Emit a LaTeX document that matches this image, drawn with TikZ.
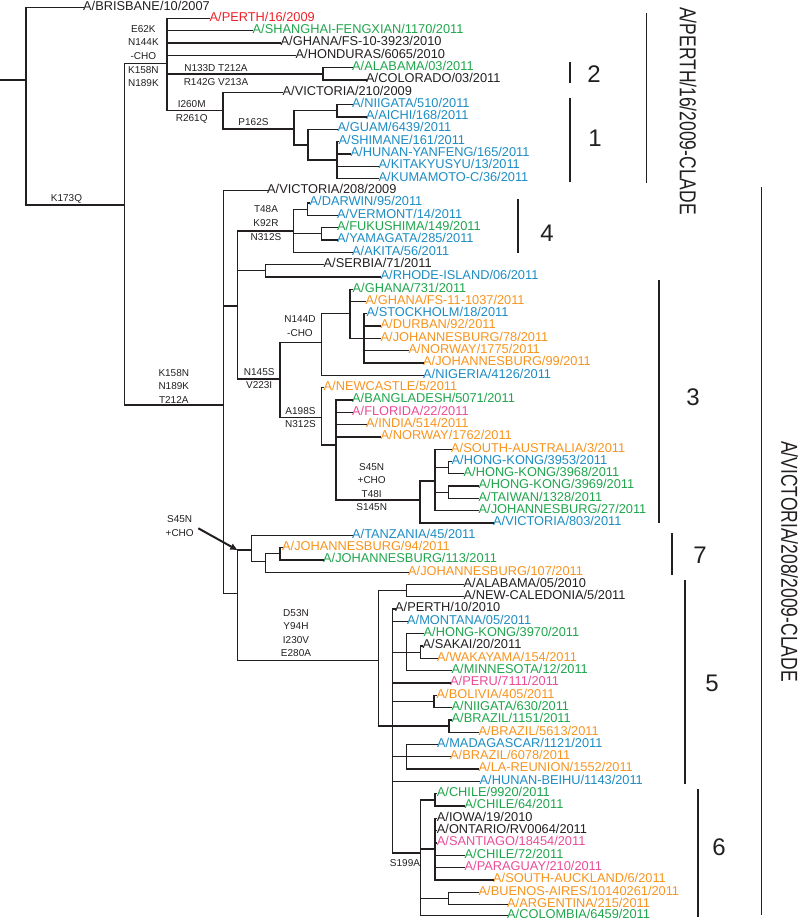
\documentclass[tikz,border=0pt]{standalone}
\usepackage{fontspec}
\setmainfont{Liberation Sans}
\usepackage{graphicx}
\usetikzlibrary{arrows.meta}
\definecolor{ink}{RGB}{35,31,32}
\definecolor{cred}{RGB}{237,32,40}
\definecolor{cgreen}{RGB}{30,165,75}
\definecolor{cblue}{RGB}{28,140,195}
\definecolor{corange}{RGB}{247,148,30}
\definecolor{cpink}{RGB}{234,76,152}
\newcommand\lblfont{\fontsize{12.8}{14}\selectfont}
\newcommand\mutfont{\fontsize{10}{13.6}\selectfont}
\newcommand\numfont{\fontsize{24}{26}\selectfont}
\newcommand\cladefont{\fontsize{23}{25}\selectfont}
\tikzset{
  br/.style={line width=1.3pt, draw=ink, line cap=rect},
  leaf/.style={anchor=west, inner sep=0pt, text height=5.9pt, text depth=0.3pt, font=\lblfont},
  mut/.style={anchor=north, inner sep=0pt, align=center, font=\mutfont, text=ink},
  cbar/.style={line width=1.2pt, draw=ink},
  cnum/.style={font=\numfont, text=ink, inner sep=0pt},
  clab/.style={font=\cladefont, text=ink, inner sep=0pt, rotate=-90},
  arr/.style={line width=2pt, draw=ink, -{Triangle[length=7pt,width=6pt]}},
}
% internal node: name, x, entry y, top y, bottom y, parent
\newcommand\innode[6]{\coordinate (#1) at (#2,#3); \draw[br] (#2,#4) -- (#2,#5); \draw[br] (#6 |- #1) -- (#1);}
% leaf: name, parent, y, label x, colour, text
\newcommand\leafnode[6]{\node[leaf,text=#5] (#1) at (#4,#3) {#6}; \draw[br] (#2 |- #1.west) -- (#1.west);}
\begin{document}
\begin{tikzpicture}[x=1pt,y=-1pt]
\useasboundingbox (0,0) rectangle (800,920);
% root
\coordinate (stem) at (0,80);
\coordinate (root) at (26,80);
\draw[br] (26,7.4) -- (26,205);
\draw[br] (stem) -- (root);
\leafnode{l0}{root}{7.4}{83}{ink}{A/BRISBANE/10/2007}
% Perth clade
\innode{nA}{124.7}{205}{63.3}{405}{root}
\innode{nP}{167}{63.3}{18.5}{110.7}{nA}
\innode{nAL}{323}{74}{67.7}{80.0}{nP}
\innode{nI}{223}{110.7}{92.3}{129}{nP}
\innode{nPS}{294}{129}{110.8}{145}{nI}
\innode{nNI}{337}{110.8}{104.6}{116.9}{nPS}
\innode{nGU}{308}{145}{129.2}{160}{nPS}
\innode{nSH}{337}{160}{141.6}{178.5}{nGU}
\leafnode{l1}{nP}{18.5}{209.5}{cred}{A/PERTH/16/2009}
\leafnode{l2}{nP}{30.8}{252.5}{cgreen}{A/SHANGHAI-FENGXIAN/1170/2011}
\leafnode{l3}{nP}{43.1}{280.5}{ink}{A/GHANA/FS-10-3923/2010}
\leafnode{l4}{nP}{55.4}{295.5}{ink}{A/HONDURAS/6065/2010}
\leafnode{l5}{nAL}{67.7}{352}{cgreen}{A/ALABAMA/03/2011}
\leafnode{l6}{nAL}{80.0}{366}{ink}{A/COLORADO/03/2011}
\leafnode{l7}{nI}{92.3}{282.5}{ink}{A/VICTORIA/210/2009}
\leafnode{l8}{nNI}{104.6}{352}{cblue}{A/NIIGATA/510/2011}
\leafnode{l9}{nNI}{116.9}{366}{cblue}{A/AICHI/168/2011}
\leafnode{l10}{nGU}{129.2}{337.5}{cblue}{A/GUAM/6439/2011}
\leafnode{l11}{nSH}{141.6}{338.5}{cblue}{A/SHIMANE/161/2011}
\leafnode{l12}{nSH}{153.9}{350.5}{cblue}{A/HUNAN-YANFENG/165/2011}
\leafnode{l13}{nSH}{166.2}{378.5}{cblue}{A/KITAKYUSYU/13/2011}
\leafnode{l14}{nSH}{178.5}{378.5}{cblue}{A/KUMAMOTO-C/36/2011}
% Victoria clade
\innode{nV}{223.3}{405}{190.8}{593.3}{nA}
\innode{nU}{237.3}{306}{231}{379}{nV}
\innode{nT}{293.3}{231}{209.3}{252.3}{nU}
\innode{nDA}{307.3}{209.3}{203.1}{215.4}{nT}
\innode{nFU}{321.7}{233.8}{227.7}{240.0}{nT}
\innode{nSE}{265.7}{270.8}{264.6}{276.9}{nU}
\innode{nNf}{280}{379}{342.3}{417.3}{nU}
\innode{nNd}{321.7}{342.3}{313.5}{375.4}{nNf}
\innode{nGH}{350}{313.5}{289.2}{338.4}{nNd}
\innode{nST}{364}{338.4}{313.8}{363.0}{nGH}
\innode{nAe}{321.7}{417.3}{387.7}{445}{nNf}
\innode{nBA}{336}{445}{400.0}{500}{nAe}
\innode{nSf}{420}{500}{481}{523.0}{nBA}
\innode{nSA}{435}{481}{449.2}{510.7}{nSf}
\innode{nHKa}{448.3}{467.7}{461.5}{473.8}{nSA}
\innode{nHKb}{448.3}{492.3}{486.1}{498.4}{nSA}
\innode{nL}{237.3}{593.3}{550}{660.7}{nV}
\innode{nTZ}{251.7}{550}{535.3}{561.7}{nL}
\innode{nJa}{265.7}{561.7}{553.8}{572.2}{nTZ}
\innode{nJb}{280}{553.8}{547.6}{559.9}{nJa}
\innode{nD}{378.3}{660.7}{590.7}{726}{nL}
\innode{nAB}{406.7}{590.7}{584.5}{596.8}{nD}
\innode{nBig}{392.7}{726}{609.1}{853}{nD}
\innode{nHKc}{406.7}{652.2}{633.8}{670.7}{nBig}
\innode{nSK}{420.7}{652.2}{646.1}{658.4}{nHKc}
\innode{nBO}{434}{701.5}{695.3}{707.6}{nBig}
\innode{nBR}{449}{726}{719.9}{732.2}{nBig}
\innode{nMA}{406.7}{756.8}{744.5}{769.1}{nBig}
\innode{nC6}{420.7}{853}{799.9}{915.8}{nBig}
\innode{nCH}{435}{799.9}{793.7}{806.0}{nC6}
\innode{nIO}{435}{849.1}{818.3}{879.9}{nC6}
\innode{nBU}{448.3}{898.4}{892.2}{904.5}{nC6}
\leafnode{l15}{nV}{190.8}{267}{ink}{A/VICTORIA/208/2009}
\leafnode{l16}{nDA}{203.1}{309.5}{cblue}{A/DARWIN/95/2011}
\leafnode{l17}{nDA}{215.4}{337}{cblue}{A/VERMONT/14/2011}
\leafnode{l18}{nFU}{227.7}{337}{cgreen}{A/FUKUSHIMA/149/2011}
\leafnode{l19}{nFU}{240.0}{337}{cblue}{A/YAMAGATA/285/2011}
\leafnode{l20}{nT}{252.3}{352}{cblue}{A/AKITA/56/2011}
\leafnode{l21}{nSE}{264.6}{323.5}{ink}{A/SERBIA/71/2011}
\leafnode{l22}{nSE}{276.9}{380.5}{cblue}{A/RHODE-ISLAND/06/2011}
\leafnode{l23}{nGH}{289.2}{352.5}{cgreen}{A/GHANA/731/2011}
\leafnode{l24}{nGH}{301.5}{365.5}{corange}{A/GHANA/FS-11-1037/2011}
\leafnode{l25}{nST}{313.8}{366.5}{cblue}{A/STOCKHOLM/18/2011}
\leafnode{l26}{nST}{326.1}{380.5}{corange}{A/DURBAN/92/2011}
\leafnode{l27}{nST}{338.4}{380.5}{corange}{A/JOHANNESBURG/78/2011}
\leafnode{l28}{nST}{350.7}{408.5}{corange}{A/NORWAY/1775/2011}
\leafnode{l29}{nST}{363.0}{423}{corange}{A/JOHANNESBURG/99/2011}
\leafnode{l30}{nNd}{375.4}{423}{cblue}{A/NIGERIA/4126/2011}
\leafnode{l31}{nAe}{387.7}{323.5}{corange}{A/NEWCASTLE/5/2011}
\leafnode{l32}{nBA}{400.0}{352}{cgreen}{A/BANGLADESH/5071/2011}
\leafnode{l33}{nBA}{412.3}{352}{cpink}{A/FLORIDA/22/2011}
\leafnode{l34}{nBA}{424.6}{366}{corange}{A/INDIA/514/2011}
\leafnode{l35}{nBA}{436.9}{380.5}{corange}{A/NORWAY/1762/2011}
\leafnode{l36}{nSA}{449.2}{451}{corange}{A/SOUTH-AUSTRALIA/3/2011}
\leafnode{l37}{nHKa}{461.5}{451.5}{cblue}{A/HONG-KONG/3953/2011}
\leafnode{l38}{nHKa}{473.8}{463.5}{cgreen}{A/HONG-KONG/3968/2011}
\leafnode{l39}{nHKb}{486.1}{478.5}{cgreen}{A/HONG-KONG/3969/2011}
\leafnode{l40}{nHKb}{498.4}{478.5}{cgreen}{A/TAIWAN/1328/2011}
\leafnode{l41}{nSA}{510.7}{478.5}{cgreen}{A/JOHANNESBURG/27/2011}
\leafnode{l42}{nSf}{523.0}{493}{cblue}{A/VICTORIA/803/2011}
\leafnode{l43}{nTZ}{535.3}{352}{cblue}{A/TANZANIA/45/2011}
\leafnode{l44}{nJb}{547.6}{282}{corange}{A/JOHANNESBURG/94/2011}
\leafnode{l45}{nJb}{559.9}{323}{cgreen}{A/JOHANNESBURG/113/2011}
\leafnode{l46}{nJa}{572.2}{408}{corange}{A/JOHANNESBURG/107/2011}
\leafnode{l47}{nAB}{584.5}{463.5}{ink}{A/ALABAMA/05/2010}
\leafnode{l48}{nAB}{596.8}{463.5}{ink}{A/NEW-CALEDONIA/5/2011}
\leafnode{l49}{nBig}{609.1}{395}{ink}{A/PERTH/10/2010}
\leafnode{l50}{nBig}{621.5}{407}{cblue}{A/MONTANA/05/2011}
\leafnode{l51}{nHKc}{633.8}{423.5}{cgreen}{A/HONG-KONG/3970/2011}
\leafnode{l52}{nSK}{646.1}{422.5}{ink}{A/SAKAI/20/2011}
\leafnode{l53}{nSK}{658.4}{437}{corange}{A/WAKAYAMA/154/2011}
\leafnode{l54}{nHKc}{670.7}{451.5}{cgreen}{A/MINNESOTA/12/2011}
\leafnode{l55}{nBig}{683.0}{450}{cpink}{A/PERU/7111/2011}
\leafnode{l56}{nBO}{695.3}{436.5}{corange}{A/BOLIVIA/405/2011}
\leafnode{l57}{nBO}{707.6}{451.5}{cgreen}{A/NIIGATA/630/2011}
\leafnode{l58}{nBR}{719.9}{451.5}{cgreen}{A/BRAZIL/1151/2011}
\leafnode{l59}{nBR}{732.2}{478.5}{corange}{A/BRAZIL/5613/2011}
\leafnode{l60}{nMA}{744.5}{437}{cblue}{A/MADAGASCAR/1121/2011}
\leafnode{l61}{nMA}{756.8}{450}{corange}{A/BRAZIL/6078/2011}
\leafnode{l62}{nMA}{769.1}{478.5}{corange}{A/LA-REUNION/1552/2011}
\leafnode{l63}{nBig}{781.4}{479.5}{cblue}{A/HUNAN-BEIHU/1143/2011}
\leafnode{l64}{nCH}{793.7}{436.7}{cgreen}{A/CHILE/9920/2011}
\leafnode{l65}{nCH}{806.0}{464.5}{cgreen}{A/CHILE/64/2011}
\leafnode{l66}{nIO}{818.3}{436.7}{ink}{A/IOWA/19/2010}
\leafnode{l67}{nIO}{830.6}{436.7}{ink}{A/ONTARIO/RV0064/2011}
\leafnode{l68}{nIO}{842.9}{436.7}{cpink}{A/SANTIAGO/18454/2011}
\leafnode{l69}{nIO}{855.2}{464.5}{cgreen}{A/CHILE/72/2011}
\leafnode{l70}{nIO}{867.5}{464.5}{cpink}{A/PARAGUAY/210/2011}
\leafnode{l71}{nIO}{879.9}{493}{corange}{A/SOUTH-AUCKLAND/6/2011}
\leafnode{l72}{nBU}{892.2}{478.5}{corange}{A/BUENOS-AIRES/10140261/2011}
\leafnode{l73}{nBU}{904.5}{507}{corange}{A/ARGENTINA/215/2011}
\leafnode{l74}{nC6}{915.8}{507}{cgreen}{A/COLOMBIA/6459/2011}
% mutation labels
\node[mut] (m1) at (143.4,25.1) {E62K\\N144K\\-CHO\\K158N\\N189K};
\node[mut] (m2) at (216,64.4) {N133D T212A\\R142G V213A};
\node[mut] (m3) at (191.7,100.7) {I260M\\R261Q};
\node[mut] (m4) at (253.5,118.7) {P162S};
\node[mut] (m5) at (66.5,194) {K173Q};
\node[mut] (m6) at (266,205.7) {T48A\\K92R\\N312S};
\node[mut] (m7) at (173.8,369) {K158N\\N189K\\T212A};
\node[mut] (m8) at (300,315.7) {N144D\\-CHO};
\node[mut] (m9) at (259.2,368) {N145S\\V223I};
\node[mut] (m10) at (300.5,407) {A198S\\N312S};
\node[mut] (m11) at (371.7,463) {S45N\\+CHO\\T48I\\S145N};
\node[mut] (m12) at (179.7,515.4) {S45N\\+CHO};
\node[mut] (m13) at (296,609) {D53N\\Y94H\\I230V\\E280A};
\node[mut] (m14) at (405,859) {S199A};
% arrow
\coordinate (arrS) at (198.3,528.3);
\draw[arr] (arrS) -- (nL |- nTZ);
% clade bars and numbers
\draw[cbar] (570,62) -- (570,83);
\node[cnum] (k2) at (594,74) {2};
\draw[cbar] (570,98) -- (570,182);
\node[cnum] (k1) at (595,138) {1};
\draw[cbar] (646.7,12.7) -- (646.7,182.7);
\node[clab] (cP) at (688,111) {\scalebox{0.76}[1]{A/PERTH/16/2009-CLADE}};
\draw[cbar] (518,199) -- (518,253);
\node[cnum] (k4) at (547,233) {4};
\draw[cbar] (659,280) -- (659,523);
\node[cnum] (k3) at (693,397) {3};
\draw[cbar] (672,533) -- (672,575);
\node[cnum] (k7) at (700,555) {7};
\draw[cbar] (685,580) -- (685,784);
\node[cnum] (k5) at (712,683) {5};
\draw[cbar] (698,789) -- (698,917);
\node[cnum] (k6) at (719,847) {6};
\draw[cbar] (761.7,187) -- (761.7,915);
\node[clab] (cV) at (789.5,561.5) {\scalebox{0.76}[1]{A/VICTORIA/208/2009-CLADE}};
\end{tikzpicture}
\end{document}
